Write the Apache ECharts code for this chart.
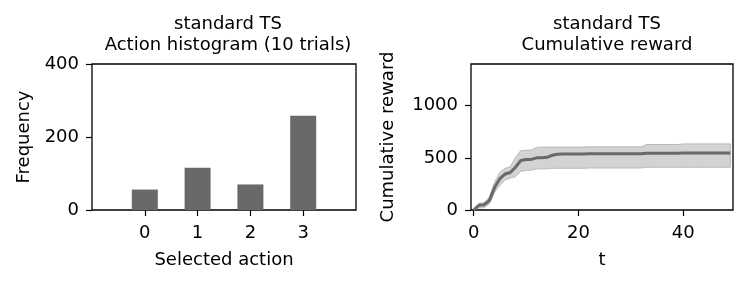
<!DOCTYPE html>
<html>
<head>
<meta charset="utf-8">
<script src="https://cdn.jsdelivr.net/npm/echarts@6/dist/echarts.min.js"></script>
<style>
html,body{margin:0;padding:0;background:#fff;}
#chart{width:748px;height:286px;}
</style>
</head>
<body>
<div id="chart"></div>
<script>
// ---- data ----
const actions = [0, 1, 2, 3];
const actionCounts = [56, 116, 70, 258];
const histYTicks = [0, 200, 400];

const tSteps = [0,1,2,3,4,5,6,7,8,9,10,11,12,13,14,15,16,17,18,19,20,21,22,23,24,25,26,27,28,29,30,31,32,33,34,35,36,37,38,39,40,41,42,43,44,45,46,47,48,49];
const meanReward = [0,45,50,90,215,300,345,360,410,475,485,485,500,500,505,525,535,537,537,537,537,537,540,540,540,540,540,540,540,540,540,540,540,545,545,545,545,545,545,545,546,546,546,546,546,546,546,546,546,546];
const upperReward = [0,65,68,125,265,360,400,415,505,570,572,575,600,603,603,603,603,603,603,603,603,603,606,606,606,606,606,606,606,606,606,606,606,628,628,628,628,628,628,628,634,634,634,634,634,634,634,634,634,634];
const lowerReward = [0,20,22,60,170,235,290,305,320,370,380,382,392,395,395,400,400,400,400,400,400,400,403,403,403,403,403,403,403,403,403,403,403,410,410,410,410,410,410,410,410,410,410,410,410,410,410,410,410,410];
const rewardXTicks = [0, 20, 40];
const rewardYTicks = [0, 500, 1000];

// ---- chart ----
const FONT = 'DejaVu Sans';
const TICK_FS = 18;
const NAME_FS = 18;
const TITLE_FS = 18;
const chart = echarts.init(document.getElementById('chart'), null, {renderer: 'canvas'});

function tick(vals) {
  return {show: true, inside: false, length: 6, lineStyle: {color: '#000', width: 1.2}, customValues: vals};
}
function xLabel(vals) {
  return {color: '#000', fontSize: TICK_FS, fontFamily: FONT, margin: 14, customValues: vals,
          formatter: v => String(v)};
}
function yLabel(vals) {
  return {color: '#000', fontSize: TICK_FS, fontFamily: FONT, margin: 13, customValues: vals,
          formatter: v => String(v)};
}
const nameStyle = {color: '#000', fontSize: NAME_FS, fontFamily: FONT};

const option = {
  animation: false,
  backgroundColor: '#fff',
  textStyle: {fontFamily: FONT},
  title: [
    {text: 'standard TS\nAction histogram (10 trials)', left: 223, top: 9, textAlign: 'center',
     textStyle: {fontSize: TITLE_FS, fontWeight: 'normal', color: '#000', fontFamily: FONT, lineHeight: 21}},
    {text: 'standard TS\nCumulative reward', left: 602, top: 9, textAlign: 'center',
     textStyle: {fontSize: TITLE_FS, fontWeight: 'normal', color: '#000', fontFamily: FONT, lineHeight: 21}}
  ],
  grid: [
    {left: 92, top: 64, width: 264, height: 146, show: true, borderColor: '#000', borderWidth: 1.3, backgroundColor: 'transparent'},
    {left: 471, top: 64, width: 262, height: 146, show: true, borderColor: '#000', borderWidth: 1.3, backgroundColor: 'transparent'}
  ],
  xAxis: [
    {type: 'value', gridIndex: 0, min: -1, max: 4, name: 'Selected action', nameLocation: 'middle', nameGap: 41,
     nameTextStyle: nameStyle, axisLine: {show: false, onZero: false}, splitLine: {show: false},
     axisTick: tick(actions), axisLabel: xLabel(actions)},
    {type: 'value', gridIndex: 1, min: -0.5, max: 49.5, name: 't', nameLocation: 'middle', nameGap: 41,
     nameTextStyle: nameStyle, axisLine: {show: false, onZero: false}, splitLine: {show: false},
     axisTick: tick(rewardXTicks), axisLabel: xLabel(rewardXTicks)}
  ],
  yAxis: [
    {type: 'value', gridIndex: 0, min: 0, max: 400, name: 'Frequency', nameLocation: 'middle', nameGap: 59,
     nameTextStyle: nameStyle, axisLine: {show: false, onZero: false}, splitLine: {show: false},
     axisTick: tick(histYTicks), axisLabel: yLabel(histYTicks)},
    {type: 'value', gridIndex: 1, min: 0, max: 1400, name: 'Cumulative reward', nameLocation: 'middle', nameGap: 74,
     nameTextStyle: nameStyle, axisLine: {show: false, onZero: false}, splitLine: {show: false},
     axisTick: tick(rewardYTicks), axisLabel: yLabel(rewardYTicks)}
  ],
  series: [
    {
      type: 'bar', xAxisIndex: 0, yAxisIndex: 0,
      data: actions.map((a, i) => [a, actionCounts[i]]),
      barWidth: 26,
      itemStyle: {color: '#696969'},
      silent: true
    },
    {
      type: 'custom', xAxisIndex: 1, yAxisIndex: 1,
      data: [0],
      silent: true,
      renderItem: function (params, api) {
        const pts = [];
        for (let i = 0; i < tSteps.length; i++) pts.push(api.coord([tSteps[i], upperReward[i]]));
        for (let i = tSteps.length - 1; i >= 0; i--) pts.push(api.coord([tSteps[i], lowerReward[i]]));
        return {
          type: 'polygon',
          shape: {points: pts},
          style: {fill: '#d3d3d3', stroke: '#bababa', lineWidth: 1}
        };
      },
      z: 1
    },
    {
      type: 'line', xAxisIndex: 1, yAxisIndex: 1,
      data: tSteps.map((t, i) => [t, meanReward[i]]),
      showSymbol: false,
      lineStyle: {color: '#696969', width: 3},
      itemStyle: {color: '#696969'},
      silent: true,
      z: 3
    }
  ]
};
chart.setOption(option);
</script>
</body>
</html>
